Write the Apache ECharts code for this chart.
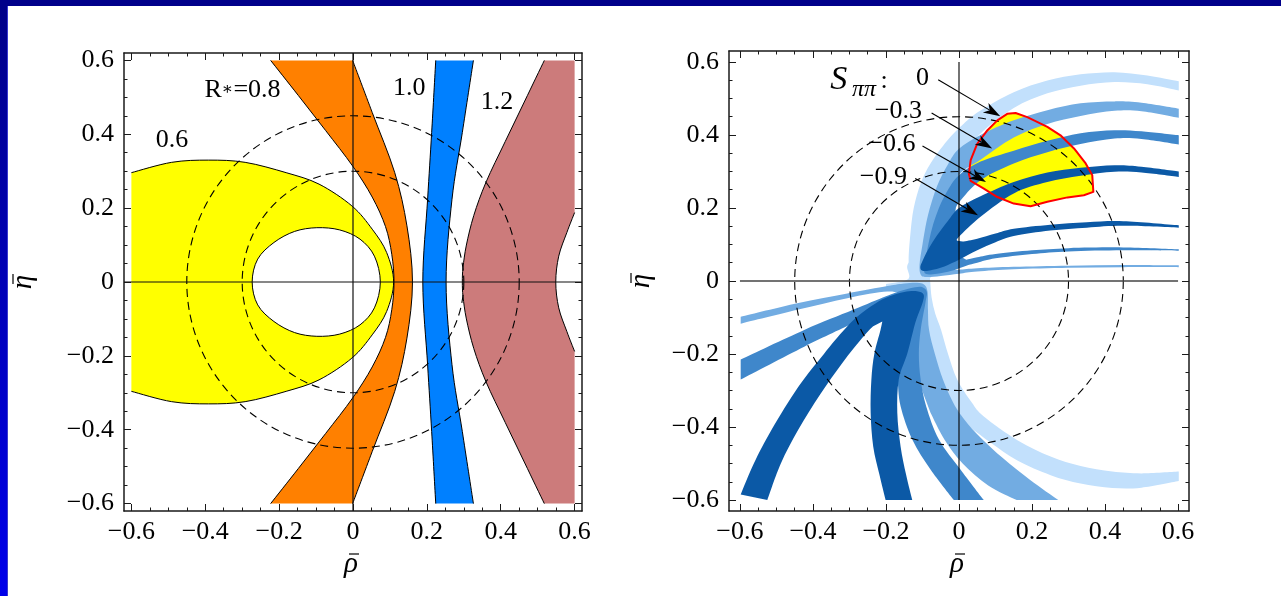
<!DOCTYPE html>
<html><head><meta charset="utf-8">
<script src="https://cdn.jsdelivr.net/npm/echarts@6.0.0/dist/echarts.min.js"></script>
<style>html,body{margin:0;padding:0;background:#fff;overflow:hidden}#c{width:1281px;height:596px}</style>
</head><body><div id="c"></div>
<script>
// ---------------- axes: ticks and labels ----------------
const MAJOR_TICKS = [-0.6, -0.4, -0.2, 0, 0.2, 0.4, 0.6];
const MAJOR_TICK_LABELS = ['\u22120.6', '\u22120.4', '\u22120.2', '0', '0.2', '0.4', '0.6'];
const MINOR_TICKS = [-0.6,-0.55,-0.5,-0.45,-0.4,-0.35,-0.3,-0.25,-0.2,-0.15,-0.1,-0.05,0,0.05,0.1,0.15,0.2,0.25,0.3,0.35,0.4,0.45,0.5,0.55,0.6];
const AXIS_TITLES = ['\u03c1', '\u03b7'];   // each drawn with a bar above
const CIRCLE_RADII = [0.3, 0.45];

// ---------------- left panel: R* bands ----------------
const R06_OUTER = [[-0.6,0.296],[-0.491,0.324],[-0.391,0.33],[-0.292,0.324],[-0.181,0.296],[-0.092,0.265],[-0.003,0.206],[0.052,0.143],[0.091,0.08],[0.11,0],[0.091,-0.08],[0.052,-0.143],[-0.003,-0.206],[-0.092,-0.265],[-0.181,-0.296],[-0.292,-0.324],[-0.391,-0.33],[-0.491,-0.324],[-0.6,-0.296]];
const R06_HOLE = [[-0.273,0],[-0.258,0.062],[-0.214,0.107],[-0.158,0.137],[-0.098,0.147],[-0.036,0.141],[0.019,0.116],[0.058,0.07],[0.074,0],[0.058,-0.07],[0.019,-0.116],[-0.036,-0.141],[-0.098,-0.147],[-0.158,-0.137],[-0.214,-0.107],[-0.258,-0.062]];
const R08_LEFT = [[-0.223,0.6],[-0.148,0.505],[-0.074,0.41],[-0.001,0.314],[0.052,0.23],[0.088,0.15],[0.105,0.075],[0.111,0],[0.105,-0.075],[0.088,-0.15],[0.052,-0.23],[-0.001,-0.314],[-0.074,-0.41],[-0.148,-0.505],[-0.223,-0.6]];
const R08_RIGHT = [[-0.001,-0.6],[0.052,-0.459],[0.113,-0.296],[0.146,-0.152],[0.161,0],[0.146,0.152],[0.113,0.296],[0.052,0.459],[-0.001,0.6]];
const R10_LEFT = [[0.224,0.6],[0.213,0.405],[0.202,0.224],[0.189,0],[0.202,-0.224],[0.213,-0.405],[0.224,-0.6]];
const R10_RIGHT = [[0.326,-0.6],[0.296,-0.405],[0.268,-0.224],[0.252,0],[0.268,0.224],[0.296,0.405],[0.326,0.6]];
const R12_LEFT = [[0.518,0.6],[0.465,0.49],[0.412,0.38],[0.36,0.27],[0.327,0.18],[0.307,0.1],[0.298,0.04],[0.296,0],[0.298,-0.04],[0.307,-0.1],[0.327,-0.18],[0.36,-0.27],[0.412,-0.38],[0.465,-0.49],[0.518,-0.6]];
const R12_RIGHT = [[0.6,-0.188],[0.579,-0.134],[0.557,-0.07],[0.549,0],[0.557,0.07],[0.579,0.134],[0.6,0.188]];
const PLOT_CORNERS = [[0.6,-0.6],[0.6,0.6]];
const LEFT_LABELS = ['{a|R}{b|\u2217}{a|=0.8}', '0.6', '1.0', '1.2'];
const LEFT_LABEL_AT = [[-0.299,0.52],[-0.49,0.384],[0.152,0.525],[0.39,0.486]];
const LEFT_ZERO_LINES = [[[-0.62,0],[0.62,0]],[[0,-0.62],[0,0.62]]];

// ---------------- right panel: S_pipi bands ----------------
const S0_UP = [[[0.602,0.547],[0.516,0.563],[0.426,0.572],[0.333,0.566],[0.242,0.549],[0.15,0.517],[0.059,0.467],[0.013,0.431],[-0.032,0.385],[-0.078,0.322],[-0.105,0.267],[-0.124,0.2],[-0.133,0.13],[-0.138,0.057],[-0.133,0.018],[-0.115,0.004],[-0.085,0.004],[-0.07,0.03],[-0.075,0.1],[-0.05,0.2],[0.0,0.33],[0.059,0.404],[0.15,0.474],[0.242,0.514],[0.333,0.535],[0.426,0.545],[0.516,0.539],[0.602,0.522]]];
const S0_LOW = [
  [[-0.13,0.06],[-0.142,0.04],[-0.136,0.012],[-0.15,0.0],[-0.2,-0.008]],
  [[-0.2,-0.02],[-0.14,-0.03],[-0.12,-0.1],[-0.1,-0.2],[-0.075,-0.28],[-0.04,-0.34],[-0.01,-0.372],[0.032,-0.402],[0.087,-0.443],[0.16,-0.492],[0.251,-0.532],[0.333,-0.555],[0.42,-0.567],[0.5,-0.566],[0.602,-0.548]],
  [[0.602,-0.522],[0.5,-0.527],[0.42,-0.522],[0.333,-0.507],[0.251,-0.481],[0.16,-0.436],[0.068,-0.371],[0.035,-0.333],[-0.005,-0.27],[-0.03,-0.2],[-0.049,-0.134],[-0.065,-0.09],[-0.075,-0.045],[-0.079,0.0],[-0.082,0.03],[-0.09,0.06]]];
const S03_UP = [
  [[0.602,0.472],[0.5,0.488],[0.426,0.492],[0.333,0.487],[0.242,0.468],[0.15,0.44],[0.059,0.4],[0.0,0.362],[-0.03,0.32],[-0.06,0.26],[-0.085,0.18],[-0.1,0.1],[-0.108,0.045],[-0.105,0.018],[-0.09,0.011],[-0.05,0.014],[0.0,0.02],[0.05,0.026],[0.15,0.032],[0.3,0.036],[0.45,0.038],[0.602,0.038]],
  [[0.602,0.043],[0.45,0.044],[0.3,0.042],[0.15,0.039],[0.05,0.035],[0.0,0.031],[-0.03,0.03]],
  [[-0.06,0.05],[-0.04,0.15],[-0.02,0.22],[0.0,0.29],[0.059,0.332],[0.15,0.393],[0.242,0.43],[0.333,0.452],[0.426,0.466],[0.5,0.465],[0.602,0.447]]];
const S03_LOW = [
  [[-0.598,-0.098],[-0.443,-0.061],[-0.306,-0.034],[-0.196,-0.014],[-0.15,-0.007],[-0.115,-0.005],[-0.095,-0.01],[-0.086,-0.03],[-0.085,-0.08],[-0.082,-0.134],[-0.066,-0.2],[-0.044,-0.27],[-0.015,-0.335],[0.015,-0.38],[0.06,-0.43],[0.12,-0.485],[0.195,-0.545],[0.272,-0.6]],
  [[0.158,-0.6],[0.08,-0.56],[0.01,-0.5],[-0.04,-0.434],[-0.078,-0.361]],
  [[-0.12,-0.25],[-0.125,-0.134],[-0.12,-0.06],[-0.15,-0.04],[-0.196,-0.029],[-0.306,-0.047],[-0.443,-0.079],[-0.598,-0.117]]];
const S06_UP = [
  [[0.602,0.399],[0.5,0.41],[0.426,0.413],[0.333,0.405],[0.242,0.384],[0.15,0.357],[0.059,0.327],[0.0,0.29],[-0.03,0.25],[-0.055,0.2],[-0.075,0.14],[-0.09,0.07],[-0.096,0.035],[-0.09,0.019],[-0.06,0.02],[-0.02,0.028],[0.02,0.042],[0.05,0.05],[0.1,0.062],[0.2,0.074],[0.3,0.081],[0.45,0.084],[0.602,0.083]],
  [[0.602,0.087],[0.45,0.092],[0.3,0.09],[0.2,0.084],[0.1,0.074],[0.05,0.065],[0.02,0.058]],
  [[-0.02,0.08],[-0.015,0.15],[-0.01,0.19],[0.0,0.215],[0.059,0.276],[0.15,0.322],[0.242,0.353],[0.333,0.375],[0.426,0.39],[0.5,0.389],[0.602,0.374]]];
const S06_LOW = [
  [[-0.598,-0.215],[-0.424,-0.134],[-0.29,-0.079],[-0.2,-0.042],[-0.156,-0.026],[-0.12,-0.017],[-0.1,-0.017],[-0.088,-0.03],[-0.092,-0.06],[-0.105,-0.134],[-0.11,-0.2],[-0.105,-0.27],[-0.09,-0.343],[-0.055,-0.434],[0.004,-0.516],[0.068,-0.6]],
  [[-0.014,-0.6],[-0.078,-0.516],[-0.128,-0.434],[-0.16,-0.343],[-0.168,-0.27]],
  [[-0.19,-0.2],[-0.18,-0.12],[-0.2,-0.06],[-0.24,-0.085]],
  [[-0.29,-0.116],[-0.424,-0.18],[-0.598,-0.27]]];
const S09_UP = [
  [[0.602,0.30],[0.5,0.313],[0.426,0.317],[0.333,0.31],[0.242,0.297],[0.15,0.271],[0.059,0.232],[0.0,0.2],[-0.03,0.165],[-0.06,0.125],[-0.085,0.085],[-0.1,0.055],[-0.106,0.038],[-0.1,0.028],[-0.08,0.029],[-0.04,0.04],[0.0,0.058],[0.05,0.084],[0.1,0.106],[0.15,0.123],[0.25,0.138],[0.35,0.146],[0.45,0.151],[0.602,0.146]],
  [[0.602,0.153],[0.45,0.164],[0.35,0.161],[0.25,0.154],[0.15,0.143],[0.1,0.13],[0.05,0.116],[0.01,0.108]],
  [[-0.005,0.11],[0.0,0.121],[0.059,0.176],[0.15,0.24],[0.242,0.271],[0.333,0.288],[0.426,0.299],[0.5,0.297],[0.602,0.285]]];
const S09_LOW = [
  [[-0.598,-0.585],[-0.562,-0.5],[-0.513,-0.407],[-0.44,-0.29],[-0.37,-0.2],[-0.32,-0.14],[-0.279,-0.098],[-0.23,-0.062],[-0.19,-0.042],[-0.15,-0.03],[-0.115,-0.028],[-0.097,-0.037],[-0.1,-0.06],[-0.115,-0.1],[-0.125,-0.134],[-0.142,-0.2],[-0.165,-0.27],[-0.169,-0.361],[-0.16,-0.453],[-0.145,-0.53],[-0.128,-0.6]],
  [[-0.201,-0.6],[-0.218,-0.53],[-0.235,-0.453],[-0.242,-0.361],[-0.24,-0.27],[-0.232,-0.2],[-0.215,-0.134],[-0.21,-0.111]],
  [[-0.235,-0.124],[-0.26,-0.15],[-0.32,-0.225],[-0.38,-0.31],[-0.44,-0.407],[-0.488,-0.5],[-0.525,-0.6]]];
const ALLOWED_REGION = [[0.132,0.458],[0.155,0.46],[0.187,0.449],[0.242,0.422],[0.278,0.399],[0.315,0.363],[0.347,0.322],[0.365,0.29],[0.368,0.244],[0.342,0.235],[0.297,0.229],[0.242,0.217],[0.196,0.205],[0.15,0.212],[0.105,0.23],[0.068,0.253],[0.032,0.274],[0.027,0.294],[0.032,0.331],[0.05,0.376],[0.078,0.413],[0.105,0.44]];
const S_VALUES = ['0', '\u22120.3', '\u22120.6', '\u22120.9'];
const S_VALUE_AT = [[-0.1,0.556],[-0.166,0.465],[-0.184,0.374],[-0.207,0.285]];
const ARROWS = [[[-0.057,0.551],[0.113,0.451]],[[-0.075,0.46],[0.091,0.363]],[[-0.1,0.37],[0.074,0.271]],[[-0.12,0.281],[0.052,0.18]]];
const S_TITLE = ['S', '\u03c0\u03c0', ':'];
const S_TITLE_AT = [[-0.353,0.551],[-0.293,0.524],[-0.205,0.547]];
const RIGHT_ZERO_LINES = [[[-0.6,0],[0.6,0]],[[0,-0.6],[0,0.6]]];

// ---------------- styles ----------------
const SERIF = "'Liberation Serif','Times New Roman','DejaVu Serif',serif";
const C_S0 = '#c2e0fc', C_S03 = '#72ace2', C_S06 = '#3f87cb', C_S09 = '#0b59a6';

function tickLabel(v) {
  for (let i = 0; i < MAJOR_TICKS.length; i++) if (Math.abs(MAJOR_TICKS[i] - v) < 1e-6) return MAJOR_TICK_LABELS[i];
  return '';
}
function f(n) { return n.toFixed(2); }
function seg(p0, p1, p2, p3) {
  return 'C' + f(p1[0] + (p2[0] - p0[0]) / 6) + ' ' + f(p1[1] + (p2[1] - p0[1]) / 6) + ' ' +
         f(p2[0] - (p3[0] - p1[0]) / 6) + ' ' + f(p2[1] - (p3[1] - p1[1]) / 6) + ' ' + f(p2[0]) + ' ' + f(p2[1]);
}
function openCurve(px, first) {
  const n = px.length;
  let d = (first ? 'M' : 'L') + f(px[0][0]) + ' ' + f(px[0][1]);
  for (let i = 0; i < n - 1; i++) d += seg(px[Math.max(i - 1, 0)], px[i], px[i + 1], px[Math.min(i + 2, n - 1)]);
  return d;
}
function closedCurve(px) {
  const n = px.length;
  let d = 'M' + f(px[0][0]) + ' ' + f(px[0][1]);
  for (let i = 0; i < n; i++) d += seg(px[(i - 1 + n) % n], px[i], px[(i + 1) % n], px[(i + 2) % n]);
  return d + 'Z';
}
function shapeRender(shapes) {
  return function (params, api) {
    const s = shapes[params.dataIndex];
    const runs = s.runs.map(r => r.map(p => api.coord(p)));
    let d;
    if (s.closed) d = closedCurve(runs[0]);
    else { d = ''; runs.forEach((r, k) => { d += openCurve(r, k === 0); }); d += 'Z'; }
    const children = [{ type: 'path', shape: { pathData: d }, style: { fill: s.fill, stroke: 'none' } }];
    (s.stroke || []).forEach(k => {
      const sd = s.closed ? closedCurve(runs[k]) : openCurve(runs[k], true);
      children.push({ type: 'path', shape: { pathData: sd }, style: { fill: 'none', stroke: '#000', lineWidth: 1 } });
    });
    return { type: 'group', children };
  };
}
const LEFT_SHAPES = [
  { runs: [R06_OUTER], fill: '#ffff00', stroke: [0] },
  { runs: [R06_HOLE], fill: '#ffffff', stroke: [0], closed: true },
  { runs: [R08_LEFT, R08_RIGHT], fill: '#ff8000', stroke: [0, 1] },
  { runs: [R10_LEFT, R10_RIGHT], fill: '#0080ff', stroke: [0, 1] },
  { runs: [R12_LEFT, [PLOT_CORNERS[0]], R12_RIGHT, [PLOT_CORNERS[1]]], fill: '#cc7b7b', stroke: [0, 2] }
];
const BAND_SHAPES = [
  [{ runs: S0_UP, fill: C_S0 }, { runs: S0_LOW, fill: C_S0 }],
  [{ runs: S03_UP, fill: C_S03 }, { runs: S03_LOW, fill: C_S03 }],
  [{ runs: S06_UP, fill: C_S06 }, { runs: S06_LOW, fill: C_S06 }],
  [{ runs: S09_UP, fill: C_S09 }, { runs: S09_LOW, fill: C_S09 }]
];

function axes(g, R, isX) {
  const pos = isX ? ['bottom', 'top'] : ['left', 'right'];
  const base = { gridIndex: g, type: 'value', min: -R, max: R, splitLine: { show: false }, splitArea: { show: false } };
  const frame = { onZero: false, lineStyle: { color: '#1a1a1a', width: 1.5 } };
  const tickStyle = { color: '#1a1a1a', width: 1 };
  return [
    Object.assign({}, base, { position: pos[0], axisLine: frame,
      axisTick: { inside: true, length: 7, customValues: MAJOR_TICKS, lineStyle: tickStyle },
      axisLabel: { customValues: MAJOR_TICKS, formatter: tickLabel, margin: isX ? 8 : 10, color: '#000', fontFamily: SERIF, fontSize: 26 } }),
    Object.assign({}, base, { position: pos[0], axisLine: { show: false, onZero: false },
      axisTick: { inside: true, length: 3.5, customValues: MINOR_TICKS, lineStyle: tickStyle }, axisLabel: { show: false } }),
    Object.assign({}, base, { position: pos[1], axisLine: frame,
      axisTick: { inside: true, length: 7, customValues: MAJOR_TICKS, lineStyle: tickStyle }, axisLabel: { show: false } }),
    Object.assign({}, base, { position: pos[1], axisLine: { show: false, onZero: false },
      axisTick: { inside: true, length: 3.5, customValues: MINOR_TICKS, lineStyle: tickStyle }, axisLabel: { show: false } })
  ];
}

function custom(g, z, data, renderItem) {
  return { type: 'custom', coordinateSystem: 'cartesian2d', xAxisIndex: g * 4, yAxisIndex: g * 4, z: z,
    silent: true, animation: false, data: data.map(() => [0, 0]), renderItem: renderItem };
}
function circleRender(params, api) {
  const c = api.coord([0, 0]);
  const r = api.size([CIRCLE_RADII[params.dataIndex], 0])[0];
  return { type: 'circle', shape: { cx: c[0], cy: c[1], r: r }, style: { fill: 'none', stroke: '#000', lineWidth: 1.1, lineDash: [8, 5] } };
}
function lineRender(lines, colors, widths) {
  return function (params, api) {
    const i = params.dataIndex;
    const a = api.coord(lines[i][0]), b = api.coord(lines[i][1]);
    return { type: 'line', shape: { x1: a[0], y1: a[1], x2: b[0], y2: b[1] }, style: { stroke: colors[i], lineWidth: widths[i] } };
  };
}
function textRender(texts, at, font, align, rich) {
  return function (params, api) {
    const i = params.dataIndex;
    const p = api.coord(at[i]);
    const a = Array.isArray(align) ? align[i] : align;
    const st = { text: texts[i], x: p[0], y: p[1], font: Array.isArray(font) ? font[i] : font,
      fill: '#000', align: a, verticalAlign: 'middle', textAlign: a, textVerticalAlign: 'middle' };
    if (rich) st.rich = rich;
    return { type: 'text', style: st };
  };
}
// barred axis title (rho-bar under x axis, eta-bar left of y axis)
function titleRender(R, yOffset, xOffset) {
  return function (params, api) {
    const isX = params.dataIndex === 0;
    const p = isX ? api.coord([0, -R]) : api.coord([-R, 0]);
    const x = isX ? p[0] - 2 : p[0] + xOffset;
    const y = isX ? p[1] + yOffset : p[1];
    return { type: 'group', x: x, y: y, rotation: isX ? 0 : Math.PI / 2, children: [
      { type: 'text', style: { text: AXIS_TITLES[params.dataIndex], x: 0, y: 0, font: 'italic 29px ' + SERIF, fill: '#000',
        align: 'center', verticalAlign: 'middle', textAlign: 'center', textVerticalAlign: 'middle' } },
      { type: 'line', shape: { x1: -2, y1: -10, x2: 8, y2: -10 }, style: { stroke: '#000', lineWidth: 1.2 } }
    ] };
  };
}
function arrowRender(params, api) {
  const a = api.coord(ARROWS[params.dataIndex][0]), b = api.coord(ARROWS[params.dataIndex][1]);
  const dx = b[0] - a[0], dy = b[1] - a[1], len = Math.hypot(dx, dy);
  const ux = dx / len, uy = dy / len, nx = -uy, ny = ux;
  const L = 17, W = 5.5;
  const head = [[b[0], b[1]], [b[0] - L * ux + W * nx, b[1] - L * uy + W * ny], [b[0] - 0.72 * L * ux, b[1] - 0.72 * L * uy], [b[0] - L * ux - W * nx, b[1] - L * uy - W * ny]];
  return { type: 'group', children: [
    { type: 'line', shape: { x1: a[0], y1: a[1], x2: b[0] - 0.72 * L * ux, y2: b[1] - 0.72 * L * uy }, style: { stroke: '#000', lineWidth: 1.1 } },
    { type: 'polygon', shape: { points: head }, style: { fill: '#000', stroke: 'none' } }
  ] };
}

const chart = echarts.init(document.getElementById('c'), null, { renderer: 'canvas', width: 1281, height: 596 });
const xAxes = [].concat(axes(0, 0.62, true), axes(1, 0.63, true));
const yAxes = [].concat(axes(0, 0.62, false), axes(1, 0.63, false));
const series = [
  custom(0, 2, LEFT_SHAPES, shapeRender(LEFT_SHAPES)),
  custom(0, 5, CIRCLE_RADII, circleRender),
  custom(0, 6, LEFT_ZERO_LINES, lineRender(LEFT_ZERO_LINES, ['#111', '#111'], [1.2, 1.2])),
  custom(0, 7, LEFT_LABELS, textRender(LEFT_LABELS, LEFT_LABEL_AT, '26px ' + SERIF, 'center',
    { a: { fontSize: 26, fontFamily: SERIF, fill: '#000' }, b: { fontSize: 17, fontFamily: SERIF, fill: '#000' } })),
  custom(0, 7, AXIS_TITLES, titleRender(0.62, 53, -101)),
  custom(1, 1, [0], function (params, api) {
    return { type: 'polygon', shape: { points: ALLOWED_REGION.map(p => api.coord(p)) }, style: { fill: '#ffff00', stroke: 'none' } };
  })
];
BAND_SHAPES.forEach((shapes, i) => series.push(custom(1, 2 + i, shapes, shapeRender(shapes))));
series.push(
  custom(1, 7, CIRCLE_RADII, circleRender),
  custom(1, 8, RIGHT_ZERO_LINES, lineRender(RIGHT_ZERO_LINES, ['#444', '#000'], [1.6, 1.1])),
  custom(1, 9, [0], function (params, api) {
    return { type: 'polygon', shape: { points: ALLOWED_REGION.map(p => api.coord(p)) }, style: { fill: 'none', stroke: '#ff0000', lineWidth: 2, lineJoin: 'round' } };
  }),
  custom(1, 10, ARROWS, arrowRender),
  custom(1, 10, S_VALUES, textRender(S_VALUES, S_VALUE_AT, '26px ' + SERIF, 'center')),
  custom(1, 10, S_TITLE, textRender(S_TITLE, S_TITLE_AT, ['italic 34px ' + SERIF, 'italic 24px ' + SERIF, '26px ' + SERIF], ['left', 'left', 'center'])),
  custom(1, 10, AXIS_TITLES, titleRender(0.63, 53, -88))
);

chart.setOption({
  animation: false,
  backgroundColor: '#ffffff',
  grid: [
    { left: 124, top: 53, width: 458, height: 458, containLabel: false },
    { left: 729, top: 51, width: 460, height: 460, containLabel: false }
  ],
  xAxis: xAxes,
  yAxis: yAxes,
  graphic: [
    { type: 'rect', shape: { x: 0, y: 0, width: 8, height: 596 }, style: { fill: new echarts.graphic.LinearGradient(0, 0, 0, 1, [{ offset: 0, color: '#000088' }, { offset: 1, color: '#0000ea' }]) }, z: 100 },
    { type: 'rect', shape: { x: 7, y: 6, width: 1, height: 590 }, style: { fill: '#3a3ad0' }, z: 101 },
    { type: 'rect', shape: { x: 0, y: 0, width: 1281, height: 6 }, style: { fill: '#00008a' }, z: 102 }
  ],
  series: series
});
</script></body></html>
